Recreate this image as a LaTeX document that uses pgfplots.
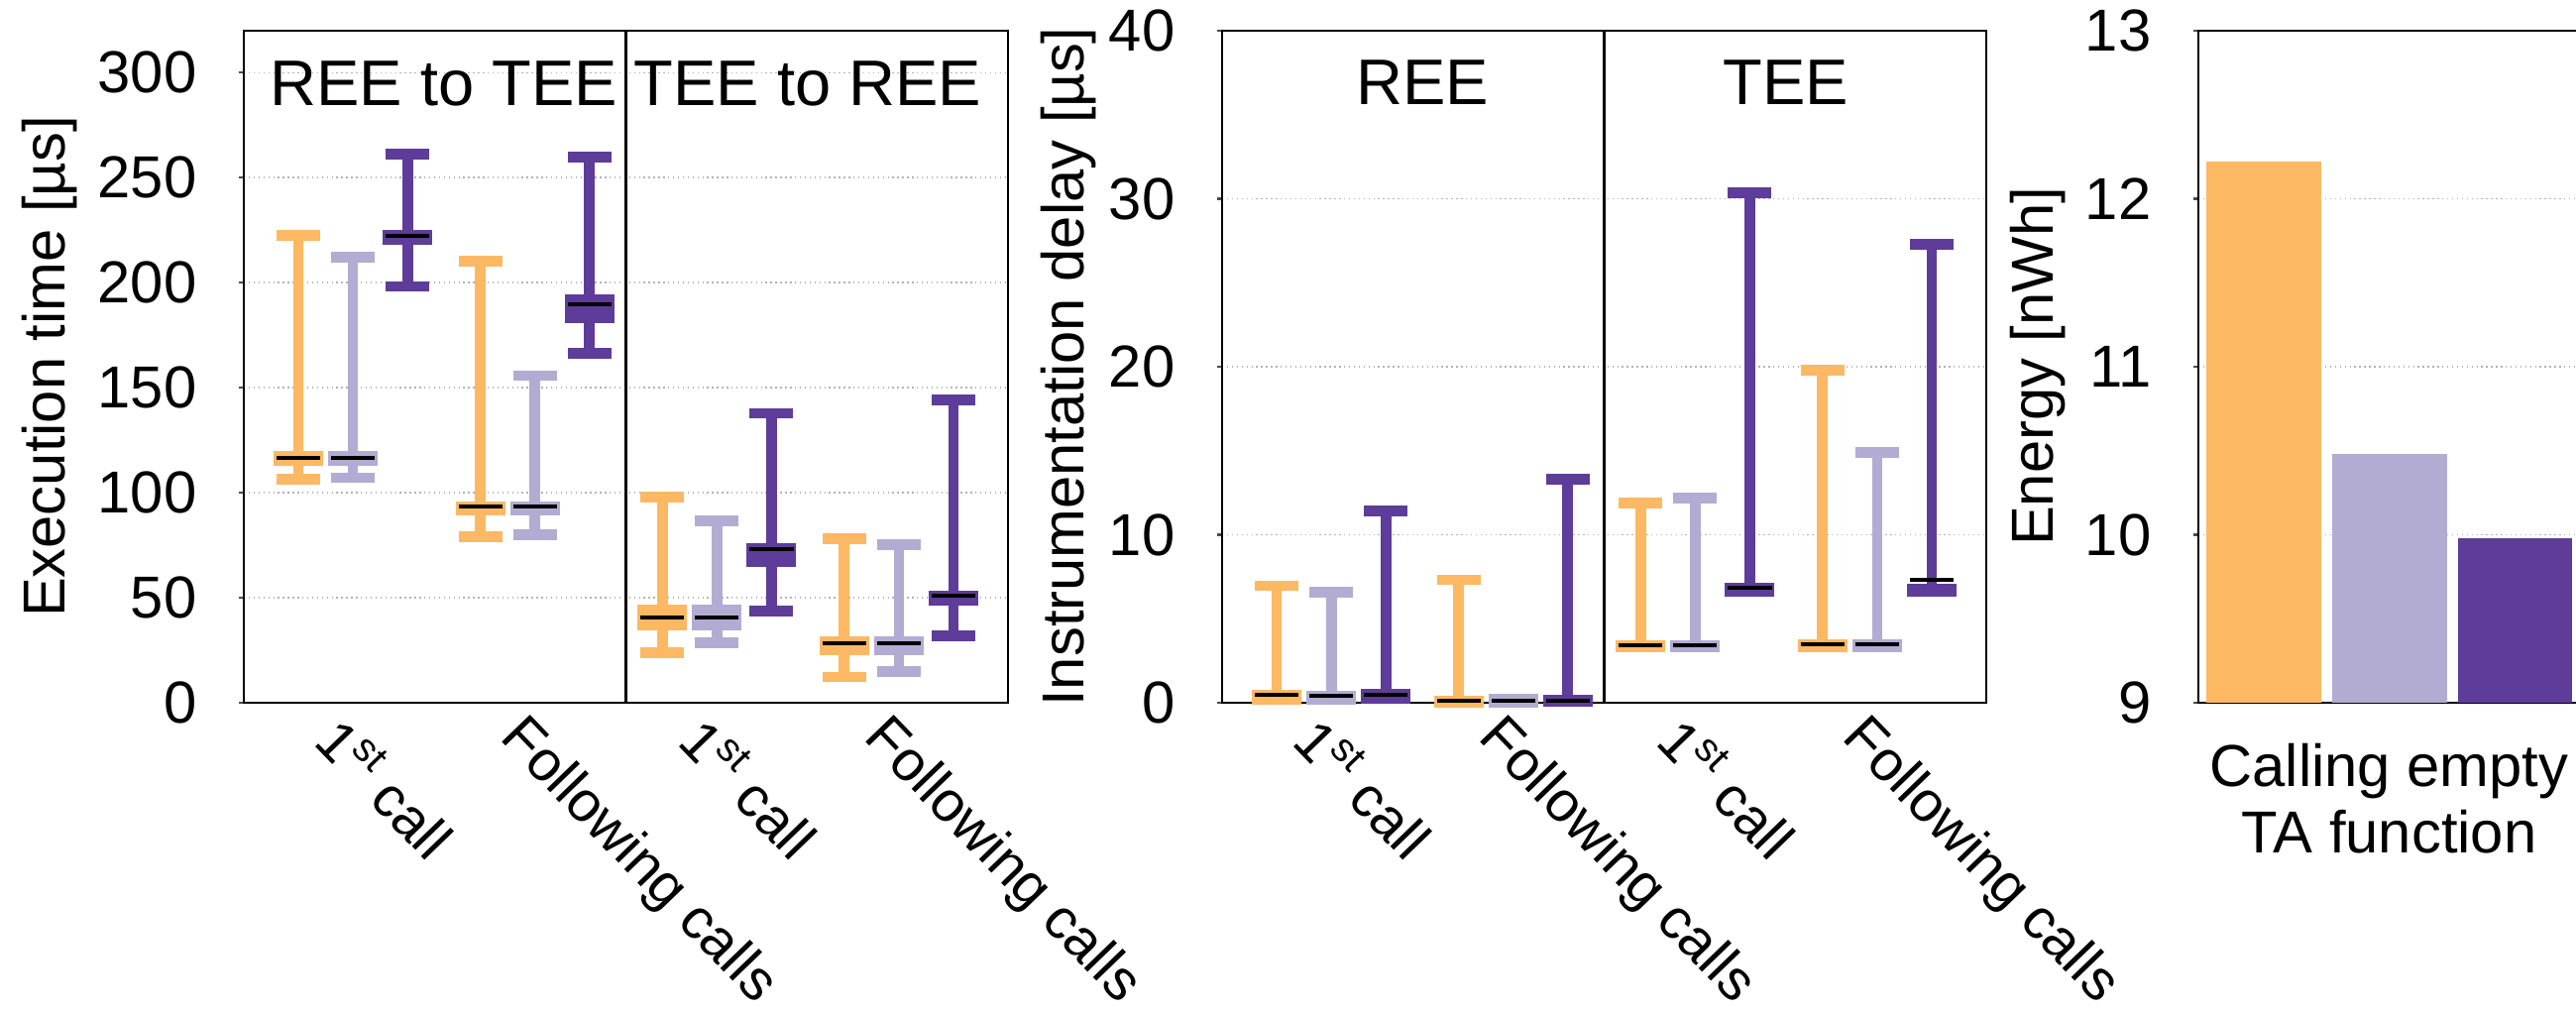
\documentclass[border=0pt]{standalone}
\usepackage{fontspec}
\setmainfont{Liberation Sans}
\usepackage{pgfplots}
\pgfplotsset{compat=1.18}
\usepgfplotslibrary{statistics}

\definecolor{cor}{HTML}{FDB863}
\definecolor{cla}{HTML}{B2ABD2}
\definecolor{cpu}{HTML}{5E3C99}

\tikzset{head/.style={font=\fontsize{18.5}{20}\selectfont, anchor=base}}

\pgfplotsset{
  panel/.style={
    scale only axis, anchor=south west, height=6.78cm,
    font=\fontsize{17}{19}\selectfont,
    /pgf/number format/assume math mode=true,
    axis line style={black, line width=0.6pt},
    ymajorgrids, grid style={densely dotted, black!30, line width=0.5pt},
    tick align=outside, major tick length=0.05cm,
    ytick pos=left,
    ytick style={black!70, line width=0.6pt},
    xtick style={draw=none},
    yticklabel style={inner sep=0pt, xshift=-0.42cm},
  },
  boxpanel/.style={
    panel, width=7.71cm, clip=false,
    xmin=0.4, xmax=4.6,
    xtick={1,2,3,4},
    xticklabels={1\textsuperscript{st} call, Following calls, 1\textsuperscript{st} call, Following calls},
    xticklabel style={font=\fontsize{16.3}{18}\selectfont, rotate=-46, anchor=north west, inner sep=0pt, xshift=-0.03cm, yshift=-0.06cm},
    boxplot/draw direction=y,
    boxplot/box extend=0.214,
    boxplot/whisker extend=0.24,
    boxplot/every median/.style={draw=black, line width=0.04cm, shorten <=-0.025cm, shorten >=-0.025cm},
  },
  sor/.style={draw=cor, fill=cor, line width=0.107cm},
  sla/.style={draw=cla, fill=cla, line width=0.107cm},
  spu/.style={draw=cpu, fill=cpu, line width=0.107cm},
}

\begin{document}
\begin{tikzpicture}
\useasboundingbox (0,0) rectangle (25.99,10.19);

% execution time
\begin{axis}[boxpanel, at={(2.46cm,3.10cm)},
  ymin=0, ymax=320, ytick={0,50,...,300},
  ylabel={Execution time [µs]},
  ylabel style={at={(axis description cs:-0.254,0.5)}, anchor=center}]
\addplot[sor, boxplot prepared={draw position=0.7, lower whisker=106.3, lower quartile=115.2, median=116.8, upper quartile=117.3, upper whisker=222.4}] coordinates {};
\addplot[sla, boxplot prepared={draw position=1.0, lower whisker=107.1, lower quartile=115.2, median=116.8, upper quartile=117.3, upper whisker=212.0}] coordinates {};
\addplot[spu, boxplot prepared={draw position=1.3, lower whisker=198.3, lower quartile=220.6, median=222.4, upper quartile=222.6, upper whisker=261.3}] coordinates {};
\addplot[sor, boxplot prepared={draw position=1.7, lower whisker=79.1, lower quartile=91.7, median=93.4, upper quartile=93.5, upper whisker=210.3}] coordinates {};
\addplot[sla, boxplot prepared={draw position=2.0, lower whisker=80.0, lower quartile=91.7, median=93.4, upper quartile=93.5, upper whisker=155.7}] coordinates {};
\addplot[spu, boxplot prepared={draw position=2.3, lower whisker=166.3, lower quartile=183.2, median=189.8, upper quartile=192.1, upper whisker=259.9}] coordinates {};
\addplot[sor, boxplot prepared={draw position=2.7, lower whisker=23.7, lower quartile=36.9, median=40.7, upper quartile=44.2, upper whisker=98.0}] coordinates {};
\addplot[sla, boxplot prepared={draw position=3.0, lower whisker=28.5, lower quartile=36.9, median=40.7, upper quartile=44.2, upper whisker=86.5}] coordinates {};
\addplot[spu, boxplot prepared={draw position=3.3, lower whisker=43.5, lower quartile=67.0, median=73.0, upper quartile=73.3, upper whisker=137.8}] coordinates {};
\addplot[sor, boxplot prepared={draw position=3.7, lower whisker=12.3, lower quartile=25.3, median=28.2, upper quartile=29.3, upper whisker=78.0}] coordinates {};
\addplot[sla, boxplot prepared={draw position=4.0, lower whisker=15.0, lower quartile=25.3, median=28.2, upper quartile=29.3, upper whisker=75.2}] coordinates {};
\addplot[spu, boxplot prepared={draw position=4.3, lower whisker=32.0, lower quartile=49.0, median=51.0, upper quartile=51.0, upper whisker=144.3}] coordinates {};
\draw[black, line width=0.6pt] (axis cs:2.5,0) -- (axis cs:2.5,320);
\node[head] at (axis cs:1.5,284.4) {REE to TEE};
\node[head] at (axis cs:3.5,284.4) {TEE to REE};
\end{axis}

% instrumentation delay
\begin{axis}[boxpanel, at={(12.33cm,3.10cm)},
  ymin=0, ymax=40, ytick={0,10,...,40},
  ylabel={Instrumentation delay [µs]},
  ylabel style={at={(axis description cs:-0.201,0.5)}, anchor=center}]
\addplot[sor, boxplot prepared={draw position=0.7, lower whisker=0.17, lower quartile=0.17, median=0.45, upper quartile=0.45, upper whisker=6.96}] coordinates {};
\addplot[sla, boxplot prepared={draw position=1.0, lower whisker=0.17, lower quartile=0.17, median=0.41, upper quartile=0.42, upper whisker=6.57}] coordinates {};
\addplot[spu, boxplot prepared={draw position=1.3, lower whisker=0.23, lower quartile=0.23, median=0.49, upper quartile=0.49, upper whisker=11.4}] coordinates {};
\addplot[sor, boxplot prepared={draw position=1.7, lower whisker=0.04, lower quartile=0.04, median=0.12, upper quartile=0.12, upper whisker=7.31}] coordinates {};
\addplot[sla, boxplot prepared={draw position=2.0, lower whisker=0.04, lower quartile=0.04, median=0.12, upper quartile=0.19, upper whisker=0.19}] coordinates {};
\addplot[spu, boxplot prepared={draw position=2.3, lower whisker=0.08, lower quartile=0.08, median=0.14, upper quartile=0.16, upper whisker=13.3}] coordinates {};
\addplot[sor, boxplot prepared={draw position=2.7, lower whisker=3.33, lower quartile=3.33, median=3.42, upper quartile=3.42, upper whisker=11.9}] coordinates {};
\addplot[sla, boxplot prepared={draw position=3.0, lower whisker=3.33, lower quartile=3.33, median=3.42, upper quartile=3.42, upper whisker=12.2}] coordinates {};
\addplot[spu, boxplot prepared={draw position=3.3, lower whisker=6.6, lower quartile=6.6, median=6.82, upper quartile=6.82, upper whisker=30.35}] coordinates {};
\addplot[sor, boxplot prepared={draw position=3.7, lower whisker=3.33, lower quartile=3.33, median=3.48, upper quartile=3.48, upper whisker=19.8}] coordinates {};
\addplot[sla, boxplot prepared={draw position=4.0, lower whisker=3.33, lower quartile=3.33, median=3.46, upper quartile=3.46, upper whisker=14.9}] coordinates {};
\addplot[spu, boxplot prepared={draw position=4.3, lower whisker=6.6, lower quartile=6.6, median=7.29, upper quartile=6.77, upper whisker=27.3}] coordinates {};
\draw[black, line width=0.6pt] (axis cs:2.5,0) -- (axis cs:2.5,40);
\node[head] at (axis cs:1.5,35.6) {REE};
\node[head] at (axis cs:3.5,35.6) {TEE};
\end{axis}

% energy
\begin{axis}[panel, at={(22.18cm,3.10cm)}, width=3.85cm,
  ymin=9, ymax=13, ytick={9,10,...,13},
  xmin=-1.516, xmax=1.516, xtick={0},
  xticklabels={Calling empty\\TA function},
  xticklabel style={align=center, anchor=north, inner sep=0pt, yshift=-0.36cm},
  ylabel={Energy [nWh]},
  ylabel style={at={(axis description cs:-0.421,0.5)}, anchor=center}]
\addplot[ybar, bar width=0.913, fill=cor, draw=none] coordinates {(-1,12.22)};
\addplot[ybar, bar width=0.913, fill=cla, draw=none] coordinates {(0,10.48)};
\addplot[ybar, bar width=0.913, fill=cpu, draw=none] coordinates {(1,9.98)};
\end{axis}
\end{tikzpicture}
\end{document}
